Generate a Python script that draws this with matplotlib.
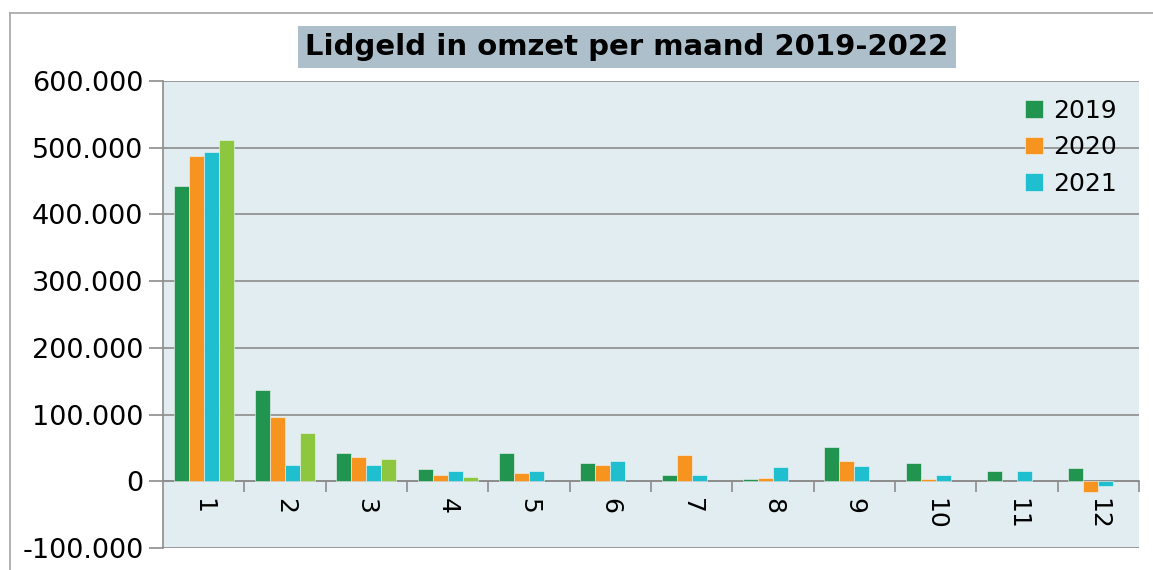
import numpy as np
import matplotlib.pyplot as plt
from matplotlib.ticker import FuncFormatter, FixedLocator
from matplotlib.lines import Line2D

maanden = ['1', '2', '3', '4', '5', '6', '7', '8', '9', '10', '11', '12']
jaren = ['2019', '2020', '2021', '2022']
lid2019 = [443000, 137000, 43000, 18000, 42000, 27000, 9000, 3000, 52000, 27000, 15000, 20000]
lid2020 = [488000, 96000, 36000, 10000, 13000, 25000, 39000, 5000, 30000, 3000, np.nan, -16000]
lid2021 = [494000, 25000, 25000, 15000, 15000, 31000, 9000, 21000, 23000, 10000, 16000, -7000]
lid2022 = [512000, 72000, 33000, 7000, np.nan, np.nan, np.nan, np.nan, np.nan, np.nan, np.nan, np.nan]
kleuren = ['#21954f', '#f7941f', '#20bfd0', '#8dc63f']

reeksen = [lid2019, lid2020, lid2021, lid2022]

fig = plt.figure(figsize=(11.53, 5.70), dpi=100)
ax = fig.add_axes([163/1153, 22/570, (1139-163)/1153, (548-81)/570])
ax.set_facecolor('#e1edf0')

x = np.arange(len(maanden))
w = 0.185
for i, (serie, kleur) in enumerate(zip(reeksen, kleuren)):
    lab = jaren[i] if i < 3 else '_nolegend_'
    ax.bar(x + (i - 1.5)*w, serie, w, color=kleur, label=lab, zorder=3,
           edgecolor='#f2f7f8', linewidth=0.4)

ax.set_xlim(-0.5, 11.5)
ax.set_ylim(-100000, 600000)
ax.set_yticks(np.arange(-100000, 600001, 100000))
ax.yaxis.set_major_formatter(FuncFormatter(lambda v, p: f"{v:,.0f}".replace(',', '.')))
ax.grid(axis='y', color='#8c8c8c', linewidth=1.2, zorder=1)
ax.tick_params(axis='y', labelsize=19.5, length=10, color='#8c8c8c', width=1.2, pad=4)

# x-as op nul, streepjes tussen de maanden
ax.spines['bottom'].set_position(('data', 0))
ax.spines['bottom'].set_color('#8c8c8c')
ax.spines['bottom'].set_linewidth(1.2)
ax.spines['left'].set_color('#8c8c8c')
ax.spines['left'].set_linewidth(1.2)
ax.spines['top'].set_visible(False)
ax.spines['right'].set_visible(False)
ax.set_xticks(x)
ax.set_xticklabels(maanden, rotation=-90, fontsize=18)
ax.tick_params(axis='x', length=0, pad=12)
ax.xaxis.set_minor_locator(FixedLocator(np.arange(0.5, 11.6, 1)))
ax.tick_params(axis='x', which='minor', length=8, color='#8c8c8c', width=1.2)

ax.legend(loc='upper right', bbox_to_anchor=(1.0, 1.01), frameon=False, fontsize=18,
          handlelength=0.7, handleheight=0.7, handletextpad=0.4, labelspacing=0.5)

fig.text(627/1153, 1 - 47/570, 'Lidgeld in omzet per maand 2019-2022', ha='center', va='center',
         fontsize=21, fontweight='bold',
         bbox=dict(boxstyle='square,pad=0.25', facecolor='#adbfca', edgecolor='none'))

# rand om de figuur
fig.add_artist(Line2D([10/1153, 10/1153], [0, 1 - 13/570], color='#a6a6a6', lw=1.2))
fig.add_artist(Line2D([10/1153, 1], [1 - 13/570, 1 - 13/570], color='#a6a6a6', lw=1.2))

fig.savefig('out.png', dpi=100)
